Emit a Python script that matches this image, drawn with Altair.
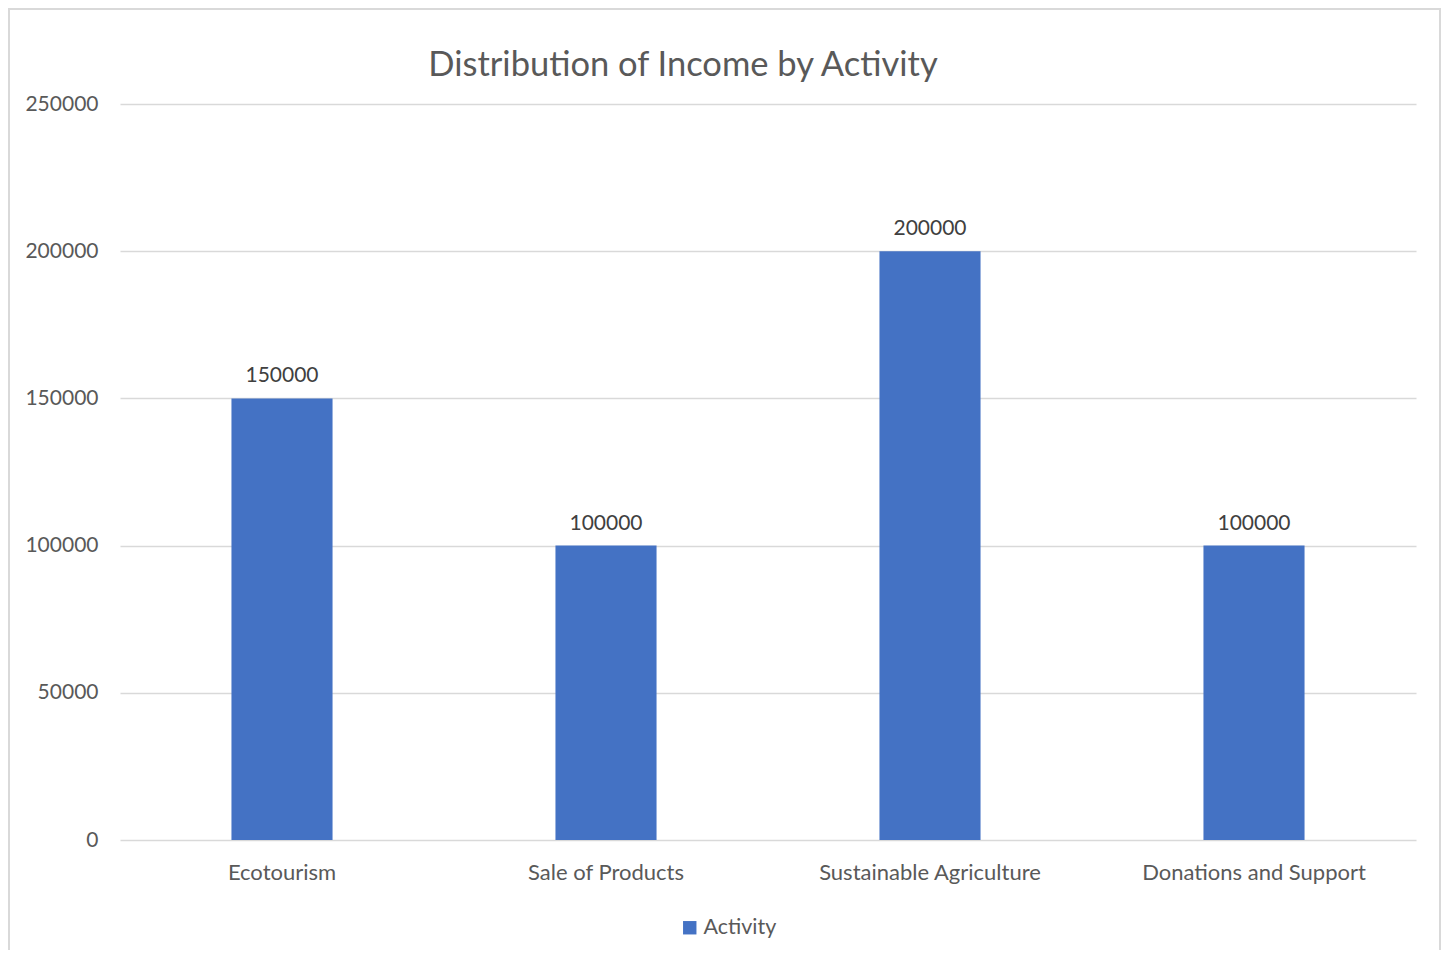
import altair as alt
import pandas as pd

title_text = "Distribution of Income by Activity"
categories = ["Ecotourism", "Sale of Products", "Sustainable Agriculture", "Donations and Support"]
values = [150000, 100000, 200000, 100000]
series_name = "Activity"
y_ticks = [0, 50000, 100000, 150000, 200000, 250000]

df = pd.DataFrame({"category": categories, "value": values, "series": series_name})

FONT = "Lato"
GRAY = "#595959"
BLUE = "#4472C4"

W, H = 1296, 736

base = alt.Chart(df)

bars = base.mark_bar(color=BLUE).encode(
    x=alt.X("category:N", sort=categories, title=None,
            scale=alt.Scale(paddingInner=0.688, paddingOuter=0.344),
            axis=alt.Axis(labelAngle=0, labelFontSize=22, labelColor=GRAY, labelFont=FONT,
                          labelPadding=22, labelLimit=0, ticks=False, domain=False, grid=False)),
    y=alt.Y("value:Q", title=None,
            scale=alt.Scale(domain=[0, 250000], nice=False),
            axis=alt.Axis(values=y_ticks, format="d", labelFontSize=21, labelColor=GRAY,
                          labelFont=FONT, labelPadding=22, ticks=False, domain=False, grid=True,
                          gridColor="#d9d9d9", gridWidth=1.5)),
    color=alt.Color("series:N", scale=alt.Scale(range=[BLUE]),
                    legend=alt.Legend(title=None, orient="none", legendX=559, legendY=813,
                                      symbolType="square", symbolSize=180, labelFontSize=21.5,
                                      labelOffset=3, labelColor=GRAY, labelFont=FONT,
                                      symbolStrokeWidth=0)),
)

labels = base.mark_text(fontSize=21, color="#404040", font=FONT, baseline="bottom", dy=-12).encode(
    x=alt.X("category:N", sort=categories),
    y="value:Q",
    text="value:Q",
)

title_df = pd.DataFrame({"t": [title_text]})
title = alt.Chart(title_df).mark_text(
    fontSize=34.5, font=FONT, color=GRAY, baseline="middle", align="center"
).encode(x=alt.value(563), y=alt.value(-38), text="t:N")

border = alt.Chart(pd.DataFrame({"a": [0]})).mark_rect(
    fill=None, stroke="#d9d9d9", strokeWidth=2, clip=False
).encode(
    x=alt.value(-111), x2=alt.value(1320), y=alt.value(-95), y2=alt.value(900)
)

chart = alt.layer(border, bars, labels, title).properties(
    width=W, height=H,
    background="white",
    padding={"left": 112, "top": 96, "right": 26, "bottom": 110},
    autosize=alt.AutoSizeParams(type="none"),
).configure_view(stroke=None)

chart.save("out.html", embed_options={"renderer": "svg", "actions": False})
